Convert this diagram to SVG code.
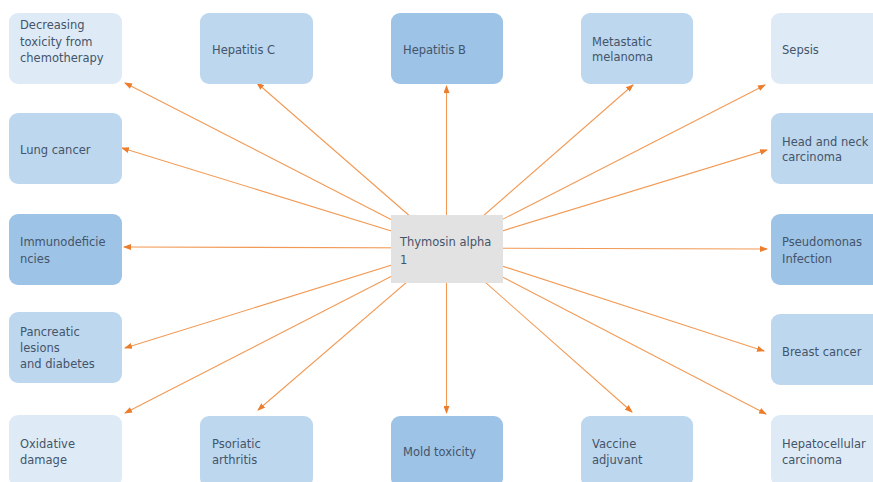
<svg xmlns="http://www.w3.org/2000/svg" width="873" height="482" viewBox="0 0 873 482">
<style>
.lt{fill:#deebf7}
.md{fill:#bdd7ee}
.dk{fill:#9dc3e6}
.ct{fill:#e2e2e2}
text{font-family:"DejaVu Sans","Verdana",sans-serif;font-size:11.5px;fill:#44546a}
.c line{stroke:#f29a55;stroke-width:1.1;fill:none;marker-end:url(#ah)}
</style>
<defs>
<marker id="ah" markerUnits="userSpaceOnUse" markerWidth="8" markerHeight="6" refX="7" refY="3" orient="auto">
<path d="M0,0 L8,3 L0,6 z" fill="#ec7d2c"/>
</marker>
</defs>
<rect width="873" height="482" fill="#ffffff"/>
<g id="connectors" class="c">
<line x1="446.5" y1="248" x2="125" y2="83"/>
<line x1="446.5" y1="248" x2="257" y2="83"/>
<line x1="446.5" y1="248" x2="446.5" y2="86"/>
<line x1="446.5" y1="248" x2="633" y2="85"/>
<line x1="446.5" y1="248" x2="765" y2="85"/>
<line x1="446.5" y1="248" x2="122" y2="148"/>
<line x1="446.5" y1="248" x2="767" y2="150"/>
<line x1="446.5" y1="248" x2="124" y2="247"/>
<line x1="446.5" y1="248" x2="767" y2="249"/>
<line x1="446.5" y1="248" x2="125" y2="348"/>
<line x1="446.5" y1="248" x2="764" y2="351"/>
<line x1="446.5" y1="248" x2="125" y2="413"/>
<line x1="446.5" y1="248" x2="258" y2="410"/>
<line x1="446.5" y1="248" x2="446.5" y2="413"/>
<line x1="446.5" y1="248" x2="632" y2="412"/>
<line x1="446.5" y1="248" x2="766" y2="414"/>
</g>
<g id="center"><rect class="ct" x="391" y="215" width="112" height="68"/><text x="400" y="246">Thymosin alpha</text><text x="400" y="264">1</text></g>
<g id="n-decreasing"><rect class="lt" x="9" y="13" width="113" height="71" rx="9"/><text x="20" y="29">Decreasing</text><text x="20" y="46">toxicity from</text><text x="20" y="62">chemotherapy</text></g>
<g id="n-hepc"><rect class="md" x="200" y="13" width="113" height="71" rx="9"/><text x="212" y="54">Hepatitis C</text></g>
<g id="n-hepb"><rect class="dk" x="391" y="13" width="112" height="71" rx="9"/><text x="403" y="54">Hepatitis B</text></g>
<g id="n-metastatic"><rect class="md" x="581" y="13" width="112" height="71" rx="9"/><text x="592" y="46">Metastatic</text><text x="592" y="61">melanoma</text></g>
<g id="n-sepsis"><rect class="lt" x="771" y="13" width="113" height="71" rx="9"/><text x="782" y="54">Sepsis</text></g>
<g id="n-lung"><rect class="md" x="9" y="113" width="113" height="71" rx="9"/><text x="20" y="154">Lung cancer</text></g>
<g id="n-headneck"><rect class="md" x="771" y="113" width="113" height="71" rx="9"/><text x="782" y="146">Head and neck</text><text x="782" y="161">carcinoma</text></g>
<g id="n-immuno"><rect class="dk" x="9" y="214" width="113" height="71" rx="9"/><text x="20" y="246">Immunodeficie</text><text x="20" y="263">ncies</text></g>
<g id="n-pseudo"><rect class="dk" x="771" y="214" width="113" height="71" rx="9"/><text x="782" y="246">Pseudomonas</text><text x="782" y="263">Infection</text></g>
<g id="n-pancreatic"><rect class="md" x="9" y="312" width="113" height="71" rx="9"/><text x="20" y="336">Pancreatic</text><text x="20" y="352">lesions</text><text x="20" y="368">and diabetes</text></g>
<g id="n-breast"><rect class="md" x="771" y="314" width="113" height="71" rx="9"/><text x="782" y="356">Breast cancer</text></g>
<g id="n-oxidative"><rect class="lt" x="9" y="415" width="113" height="71" rx="9"/><text x="20" y="448">Oxidative</text><text x="20" y="464">damage</text></g>
<g id="n-psoriatic"><rect class="md" x="200" y="416" width="113" height="71" rx="9"/><text x="212" y="448">Psoriatic</text><text x="212" y="464">arthritis</text></g>
<g id="n-mold"><rect class="dk" x="391" y="416" width="112" height="71" rx="9"/><text x="403" y="456">Mold toxicity</text></g>
<g id="n-vaccine"><rect class="md" x="581" y="416" width="112" height="71" rx="9"/><text x="592" y="448">Vaccine</text><text x="592" y="464">adjuvant</text></g>
<g id="n-hepatocellular"><rect class="lt" x="771" y="415" width="113" height="71" rx="9"/><text x="782" y="448">Hepatocellular</text><text x="782" y="464">carcinoma</text></g>
</svg>
